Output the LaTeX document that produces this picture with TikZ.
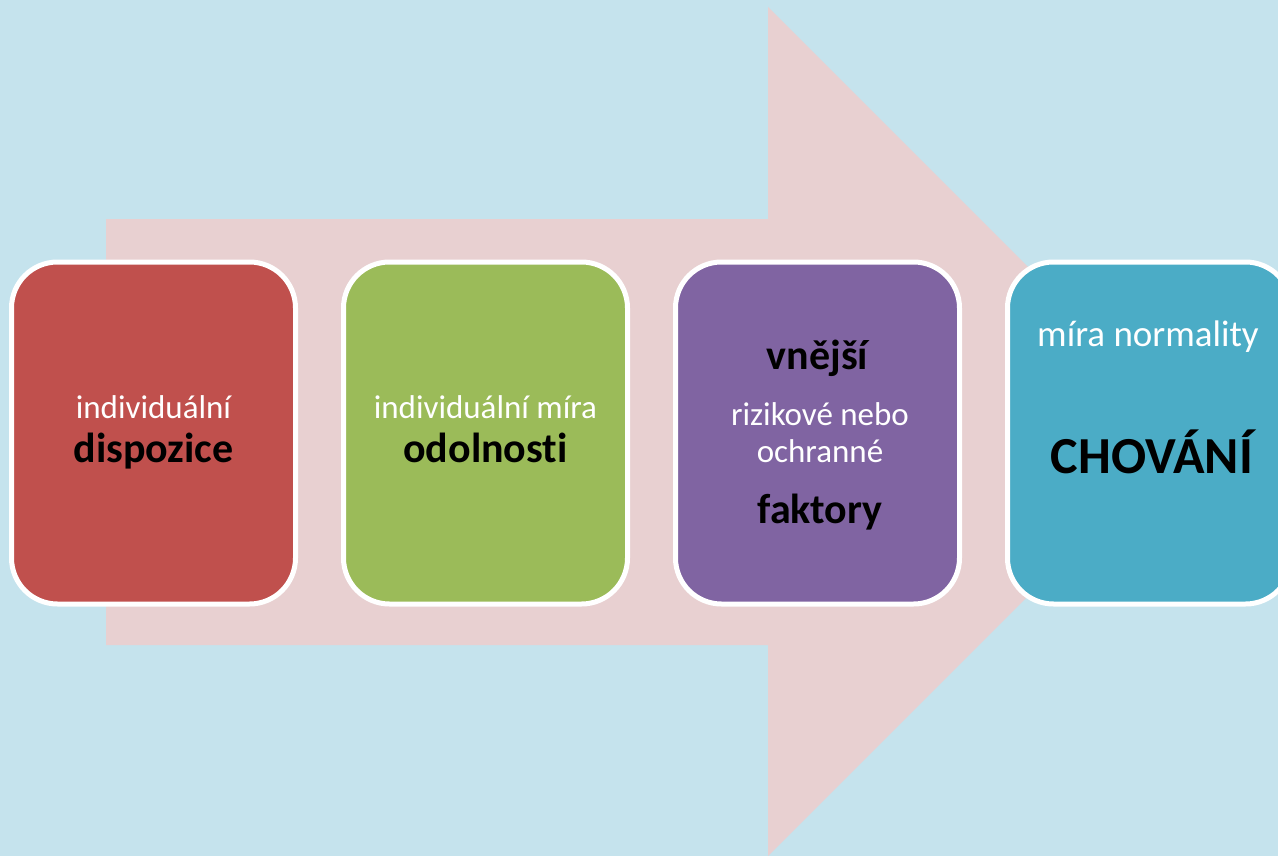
\documentclass[tikz,border=0pt]{standalone}
\usepackage{fontspec}
\setmainfont[Ligatures=NoCommon]{Carlito}
\definecolor{bgc}{HTML}{C5E3ED}
\definecolor{arrc}{HTML}{E8D0D1}
\definecolor{cred}{HTML}{C0504D}
\definecolor{cgreen}{HTML}{9BBB59}
\definecolor{cpurple}{HTML}{8064A2}
\definecolor{cblue}{HTML}{4BACC6}
\begin{document}
\begin{tikzpicture}[x=1pt,y=-1pt,
  box/.style={draw=white, line width=5pt, rounded corners=46pt, minimum width=284pt, minimum height=342pt, inner sep=0pt},
  lbl/.style={anchor=base, inner sep=0pt, text=white, font=\fontsize{33}{40}\selectfont},
  bld/.style={anchor=base, inner sep=0pt, text=black, font=\fontsize{42}{50}\selectfont\bfseries}]
\useasboundingbox (0,0) rectangle (1278,856);
\clip (0,0) rectangle (1278,856);
\fill[bgc] (0,0) rectangle (1278,856);
\fill[arrc] (106,219) -- (768,219) -- (768,7) -- (1192.5,431.5) -- (768,856) -- (768,645) -- (106,645) -- cycle;
\node[box, fill=cred] (b1) at (153.5,433) {};
\node[box, fill=cgreen] (b2) at (485.5,433) {};
\node[box, fill=cpurple] (b3) at (817.5,433) {};
\node[box, fill=cblue] (b4) at (1149.5,433) {};
\node[lbl] (t1a) at (153.5,418) {individuální};
\node[bld] (t1b) at (153.5,462) {dispozice};
\node[lbl] (t2a) at (485.5,418) {individuální míra};
\node[bld] (t2b) at (485.5,462) {odolnosti};
\node[bld] (t3a) at (817.5,369) {vnější};
\node[lbl] (t3b) at (820,425) {rizikové nebo};
\node[lbl] (t3c) at (820,462) {ochranné};
\node[bld] (t3d) at (820,523) {faktory};
\node[lbl, font=\fontsize{37}{44}\selectfont] (t4a) at (1148,346) {míra normality};
\node[bld, font=\fontsize{52}{60}\selectfont\bfseries] (t4b) at (1152,473) {CHOVÁNÍ};
\end{tikzpicture}
\end{document}
